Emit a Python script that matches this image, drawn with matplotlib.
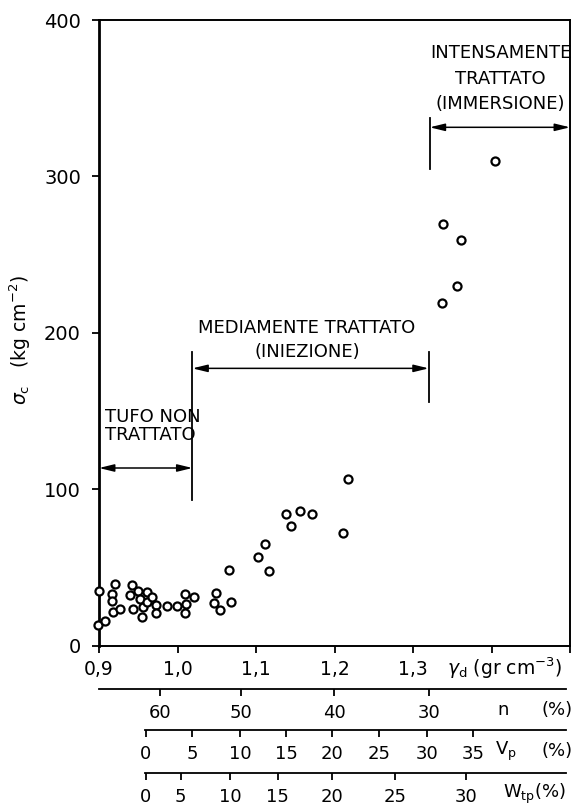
import numpy as np
import matplotlib
matplotlib.use("Agg")
from matplotlib import pyplot as plt

plt.rcParams['font.family'] = ['DejaVu Sans']
plt.rcParams['mathtext.fontset'] = 'dejavusans'

# measured points: dry density (gr/cm3) vs compressive strength (kg/cm2)
gamma_d = [0.900, 0.899, 0.908, 0.920, 0.916, 0.917, 0.918, 0.927,
           0.942, 0.939, 0.943, 0.950, 0.952, 0.961, 0.956, 0.955,
           0.961, 0.967, 0.973, 0.973, 0.986, 0.999, 1.009, 1.011,
           1.010, 1.021, 1.049, 1.046, 1.054, 1.068, 1.066, 1.102,
           1.112, 1.117, 1.138, 1.144, 1.156, 1.171, 1.211, 1.217,
           1.337, 1.338, 1.356, 1.361, 1.405]
sigma_c = [35.0, 13.5, 16.0, 39.4, 33.0, 28.6, 21.3, 23.3,
           38.8, 32.4, 23.3, 35.2, 29.7, 34.5, 24.5, 18.5,
           28.1, 30.9, 26.0, 20.7, 25.4, 25.4, 33.0, 26.7,
           20.7, 31.3, 33.5, 27.1, 22.8, 27.7, 48.4, 56.6,
           65.0, 47.8, 84.0, 76.7, 86.1, 84.4, 71.9, 106.6,
           218.9, 269.4, 229.9, 259.3, 310.0]

x_ticks = [0.9, 1.0, 1.1, 1.2, 1.3, 1.4, 1.5]
x_labels = ['0,9', '1,0', '1,1', '1,2', '1,3', '', '']
y_ticks = [0, 100, 200, 300, 400]

# extra scales, tick positions given in gamma_d units
n_vals = ['60', '50', '40', '30']
n_pos = [0.978, 1.081, 1.1995, 1.321]
vp_vals = ['0', '5', '10', '15', '20', '25', '30', '35']
vp_pos = [0.9593, 1.0189, 1.0802, 1.1382, 1.1967, 1.2568, 1.3173, 1.3769]
wtp_vals = ['0', '5', '10', '15', '20', '25', '30']
wtp_pos = [0.9593, 1.004, 1.0671, 1.1275, 1.1973, 1.2769, 1.3674]

W, H = 583, 807
fig = plt.figure(figsize=(W / 100, H / 100), dpi=100)

def fx(px):
    return px / W

def fy(py):
    return 1 - py / H

ax = fig.add_axes([fx(99), fy(645.7), fx(570) - fx(99), fy(20) - fy(645.7)])
ax.plot(gamma_d, sigma_c, 'o', ms=5.8, mfc='white', mec='black', mew=1.6,
        clip_on=False, zorder=4)
ax.set_xlim(0.9, 1.5)
ax.set_ylim(0, 400)
ax.set_xticks(x_ticks)
ax.set_xticklabels(x_labels)
ax.set_yticks(y_ticks)
ax.tick_params(axis='x', direction='out', length=5, width=1.3, pad=5, labelsize=13.5)
ax.tick_params(axis='y', direction='out', length=5, width=1.3, pad=8, labelsize=14)
for s in ax.spines.values():
    s.set_linewidth(1.4)
ax.spines['left'].set_linewidth(2)

fig.text(fx(447), fy(668), r'$\gamma_{\rm d}$ (gr cm$^{-3}$)', fontsize=13.5,
         ha='left', va='center')
fig.text(fx(20), fy(340), r'$\sigma_{\rm c}$   (kg cm$^{-2}$)', fontsize=13.5,
         rotation=90, ha='center', va='center')

# bracket annotations
arrow_kw = dict(arrowstyle='<|-|>,head_length=0.9,head_width=0.22',
                color='black', lw=1.1, shrinkA=0, shrinkB=0)
txt_kw = dict(fontsize=13, color='black')

ax.annotate('', xy=(0.9, 113.6), xytext=(1.019, 113.6), arrowprops=arrow_kw)
ax.plot([1.019, 1.019], [93, 187.7], color='black', lw=1.3)
ax.text(0.9076, 146, 'TUFO NON', ha='left', va='center', **txt_kw)
ax.text(0.9076, 134.5, 'TRATTATO', ha='left', va='center', **txt_kw)

ax.annotate('', xy=(1.019, 177.3), xytext=(1.320, 177.3), arrowprops=arrow_kw)
ax.plot([1.320, 1.320], [155.8, 187.7], color='black', lw=1.3)
ax.text(1.164, 202.9, 'MEDIAMENTE TRATTATO', ha='center', va='center', **txt_kw)
ax.text(1.166, 188, '(INIEZIONE)', ha='center', va='center', **txt_kw)

ax.annotate('', xy=(1.3213, 331.4), xytext=(1.5, 331.4), arrowprops=arrow_kw,
            annotation_clip=False)
ax.plot([1.3213, 1.3213], [304.7, 337.2], color='black', lw=1.3)
ax.text(1.4114, 378.8, 'INTENSAMENTE', ha='center', va='center', clip_on=False, **txt_kw)
ax.text(1.4114, 362.2, 'TRATTATO', ha='center', va='center', clip_on=False, **txt_kw)
ax.text(1.4114, 346.2, '(IMMERSIONE)', ha='center', va='center', clip_on=False, **txt_kw)

# secondary scales below the plot
def scale(y_px, start, pos, vals, name, name_x):
    sax = fig.add_axes([fx(99), fy(y_px), fx(570) - fx(99), 0.0001])
    sax.set_xlim(0.9, 1.5)
    sax.set_yticks([])
    for k in ['top', 'left', 'right']:
        sax.spines[k].set_visible(False)
    sax.spines['bottom'].set_bounds(start, 1.495)
    sax.spines['bottom'].set_linewidth(1.3)
    sax.patch.set_visible(False)
    sax.set_xticks(pos)
    sax.set_xticklabels(vals)
    sax.tick_params(axis='x', direction='out', length=5, width=1.3, pad=6, labelsize=13)
    for txt, xp in zip(name, name_x):
        fig.text(fx(xp), fy(y_px + 21), txt, fontsize=13, ha='center', va='center')

scale(689, 0.9, n_pos, n_vals, ['n', '(%)'], [503, 557])
scale(730, 0.9584, vp_pos, vp_vals, [r'V$_{\rm p}$', '(%)'], [506, 557])
scale(772.7, 0.9584, wtp_pos, wtp_vals, [r'W$_{\rm tp}$(%)'], [534])

fig.savefig('out.png', dpi=100)
